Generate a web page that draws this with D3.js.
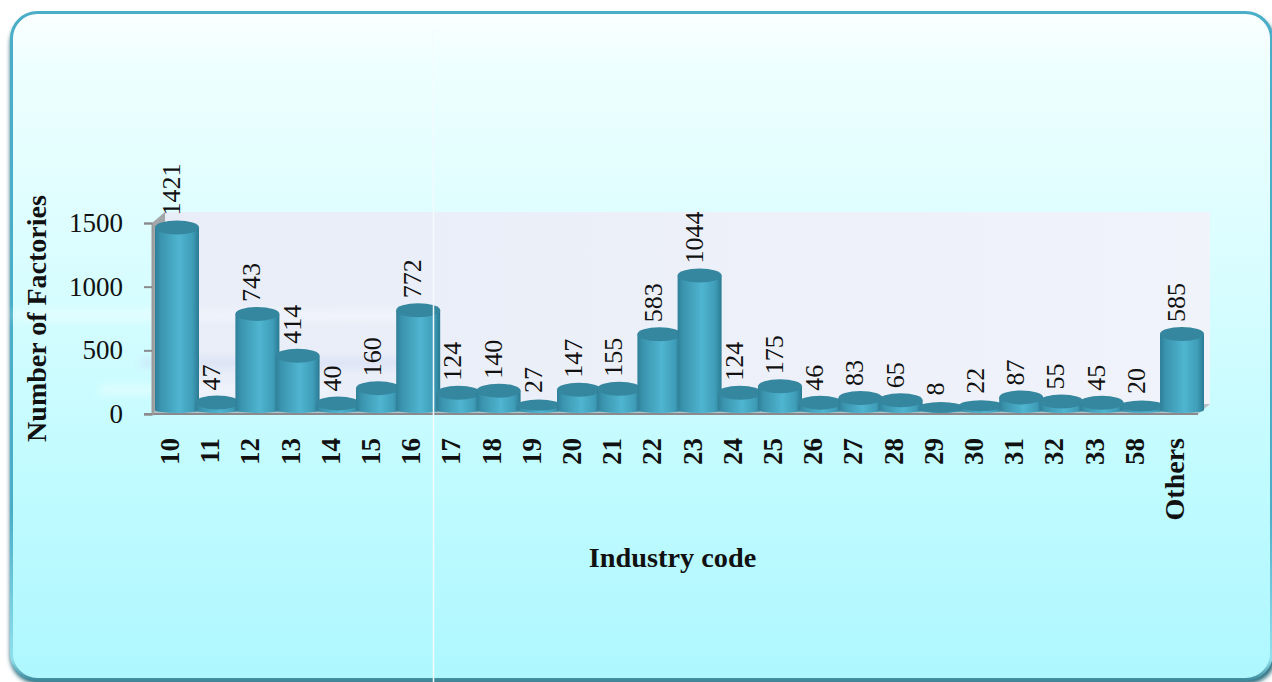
<!DOCTYPE html>
<html><head><meta charset="utf-8">
<style>html,body{margin:0;padding:0;background:#fff;overflow:hidden}svg{display:block}
text{font-family:"Liberation Serif",serif;fill:#111}</style>
<script src="https://cdn.jsdelivr.net/npm/d3@7"></script></head><body>
<script>
const codes=["10","11","12","13","14","15","16","17","18","19","20","21","22","23","24","25","26","27","28","29","30","31","32","33","58","Others"];
const factories=[1421,47,743,414,40,160,772,124,140,27,147,155,583,1044,124,175,46,83,65,8,22,87,55,45,20,585];
const yTicks=[0,500,1000,1500];
const W=1272,H=682;
const svg=d3.select("body").append("svg").attr("width",W).attr("height",H);
const defs=svg.append("defs");
const bg=defs.append("linearGradient").attr("id","bg").attr("x1",0).attr("x2",0).attr("y1",0).attr("y2",1);
[[0,"#fbffff"],[.08,"#eeffff"],[.4,"#d8fdff"],[.7,"#c0fbff"],[1,"#aef7ff"]].forEach(d=>bg.append("stop").attr("offset",d[0]).attr("stop-color",d[1]));
const edge=defs.append("linearGradient").attr("id","edge").attr("x1",0).attr("x2",0).attr("y1",0).attr("y2",1);
[[0,"#4aaec8"],[.75,"#4aaec8"],[.97,"#8fe0ee"],[1,"#3f8c9e"]].forEach(d=>edge.append("stop").attr("offset",d[0]).attr("stop-color",d[1]));
const cyl=defs.append("linearGradient").attr("id","cyl");
[[0,"#2f7f98"],[.12,"#3a93ad"],[.55,"#4fb5d0"],[.85,"#3f9db8"],[1,"#2b7a93"]].forEach(d=>cyl.append("stop").attr("offset",d[0]).attr("stop-color",d[1]));
const wall=defs.append("linearGradient").attr("id","wall").attr("x1",0).attr("x2",1);
[[0,"#e8edf8"],[.7,"#eef1f9"],[1,"#f0f3fa"]].forEach(d=>wall.append("stop").attr("offset",d[0]).attr("stop-color",d[1]));
defs.append("filter").attr("id","blur").attr("x","-5%").attr("y","-100%").attr("width","110%").attr("height","300%").append("feGaussianBlur").attr("stdDeviation","5 3");
defs.append("filter").attr("id","soft").append("feGaussianBlur").attr("stdDeviation",2);

svg.append("rect").attr("x",10).attr("y",16).attr("width",1266).attr("height",668).attr("rx",28).attr("fill","#2f6f80").attr("filter","url(#soft)");
svg.append("rect").attr("x",11.5).attr("y",12.5).attr("width",1260).attr("height",667).attr("rx",26)
  .attr("fill","url(#bg)").attr("stroke","url(#edge)").attr("stroke-width",3);

const x=d3.scaleBand().domain(codes).range([156.9,1202.1]).padding(0);
const y=d3.scaleLinear().domain([0,1500]).range([414,223]);
const barW=44, lift=5.5, ry=7;

svg.append("rect").attr("x",165).attr("y",212).attr("width",1045).attr("height",194).attr("fill","url(#wall)");
[[315,"#ffffff",.3,[12,440]],[363,"#c9d6f2",.35,[140,430]],[390,"#ffffff",.3,[100,330]]].forEach(b=>
  svg.append("rect").attr("x",b[3][0]).attr("y",b[0]-6).attr("width",b[3][1]-b[3][0]).attr("height",12)
    .attr("fill",b[1]).attr("opacity",b[2]).attr("filter","url(#blur)"));
svg.append("polygon").attr("points",[[152,223],[165,212],[165,404],[152,414]].join(" ")).attr("fill","#a3a6a9");
svg.append("polygon").attr("points",[[152,414],[165,404],[1210,404],[1198,414]].join(" ")).attr("fill","#a9aeb4").attr("opacity",.75);
svg.append("line").attr("x1",144).attr("x2",1198).attr("y1",414).attr("y2",414).attr("stroke","#8a8a8e").attr("stroke-width",2);

const ax=svg.append("g").attr("transform","translate(152,0)").call(d3.axisLeft(y).tickValues(yTicks).tickSize(8).tickPadding(20).tickFormat(d3.format("d")));
ax.select(".domain").attr("stroke","#9a9a9a").attr("stroke-width",2);
ax.selectAll(".tick line").attr("stroke","#8a8a8e").attr("stroke-width",2);
ax.selectAll("text").attr("font-size",27).attr("font-family","Liberation Serif").attr("fill","#111").attr("dx",-1);

const gBars=svg.append("g");
const groups=gBars.selectAll("g").data(codes.map((c,i)=>({c,v:factories[i]}))).join("g")
  .attr("transform",d=>`translate(${x(d.c)+x.bandwidth()/2},0)`);
groups.append("path").attr("fill","url(#cyl)").attr("d",d=>{
  const t=y(d.v)-lift,b=413,r=barW/2;
  return `M${-r},${t}L${-r},${b-3}A${r},3 0 0 0 ${r},${b-3}L${r},${t}Z`;
});
groups.append("ellipse").attr("cy",d=>y(d.v)-lift).attr("rx",barW/2).attr("ry",d=>d.v<30?5.5:ry).attr("fill","#35869f");
groups.append("text").attr("transform",d=>`translate(3,${y(d.v)-lift-ry-5}) rotate(-90)`)
  .attr("font-size",26).text(d=>d.v);
groups.append("text").attr("transform","translate(2,438) rotate(-90)").attr("text-anchor","end")
  .attr("font-size",d=>d.c==="Others"?28:27).attr("font-weight","bold").text(d=>d.c);

svg.append("text").attr("transform","translate(46,318.5) rotate(-90)").attr("text-anchor","middle")
  .attr("font-size",28).attr("font-weight","bold").text("Number of Factories");
svg.append("text").attr("x",672.5).attr("y",567).attr("text-anchor","middle")
  .attr("font-size",28.3).attr("font-weight","bold").text("Industry code");
svg.append("line").attr("x1",433.5).attr("x2",433.5).attr("y1",30).attr("y2",682).attr("stroke","#f4fbff").attr("stroke-width",1.5);
</script></body></html>
